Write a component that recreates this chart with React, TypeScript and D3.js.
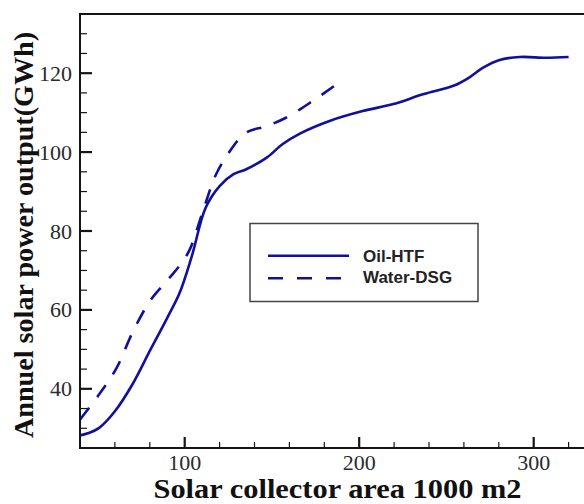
import React from "react";
import * as d3 from "d3";

const oilX = [40, 45, 51, 60, 70, 80, 90, 97, 104, 112, 120, 128, 135, 147, 156, 166, 183, 202, 219, 237, 254, 263, 271, 280, 292, 307, 320];
const oilY = [28.2, 28.8, 30.1, 34.3, 41.1, 49.6, 58, 64.2, 73.5, 85.9, 91.4, 94.4, 95.6, 98.6, 102, 104.7, 107.9, 110.4, 112.1, 114.7, 116.8, 118.9, 121.4, 123.3, 124.1, 123.9, 124.1];
const waterX = [40, 51, 61, 70, 80, 88, 93, 99, 103, 110.5, 118, 126, 135, 147, 158, 173.5, 189];
const waterY = [32.2, 38.6, 45.3, 54.2, 62.2, 66.5, 69, 72.4, 75.4, 85.1, 94.4, 100.3, 104.9, 106.6, 108.7, 113, 117.8];
const xMajor = [100, 200, 300];
const xMinor = [60, 80, 120, 140, 160, 180, 220, 240, 260, 280, 320];
const yMajor = [40, 60, 80, 100, 120];
const yMinor = [30, 35, 45, 50, 55, 65, 70, 75, 85, 90, 95, 105, 110, 115, 125, 130];
const seriesNames = ["Oil-HTF", "Water-DSG"];
const xTitle = "Solar collector area 1000 m2";
const yTitle = "Annuel solar power output(GWh)";

const W = 584, H = 504;
const L = 80, T = 14, B = 448;
const BLUE = "#10109c";

export default function App() {
  const x = d3.scaleLinear().domain([40, 330]).range([L, L + 290 * 1.745]);
  const y = d3.scaleLinear().domain([25, 135]).range([B, T]);
  const line = d3.line<[number, number]>().x(d => x(d[0])).y(d => y(d[1])).curve(d3.curveCatmullRom.alpha(0.5));
  const oil = oilX.map((v, i) => [v, oilY[i]] as [number, number]);
  const water = waterX.map((v, i) => [v, waterY[i]] as [number, number]);
  const axisColor = "#151515";
  return (
    <svg width={W} height={H} style={{ position: "absolute", left: 0, top: 0, display: "block", background: "#fff" }}>
      <defs>
        <clipPath id="plot"><rect x={L} y={T} width={W - L} height={B - T} /></clipPath>
      </defs>
      <rect x={0} y={0} width={W} height={H} fill="#fff" />
      <g clipPath="url(#plot)" fill="none" stroke={BLUE} strokeWidth={2.6}>
        <path d={line(oil) || ""} />
        <path d={line(water) || ""} strokeDasharray="15 13" />
      </g>
      {/* ticks */}
      <g stroke={axisColor}>
        {xMajor.map(v => <line key={"xM" + v} x1={x(v)} x2={x(v)} y1={B} y2={B - 11} strokeWidth={2.2} />)}
        {xMinor.map(v => <line key={"xm" + v} x1={x(v)} x2={x(v)} y1={B} y2={B - 6} strokeWidth={1.2} />)}
        {yMajor.map(v => <line key={"yM" + v} x1={L} x2={L + 12} y1={y(v)} y2={y(v)} strokeWidth={2.2} />)}
        {yMinor.map(v => <line key={"ym" + v} x1={L} x2={L + 7} y1={y(v)} y2={y(v)} strokeWidth={1.2} />)}
      </g>
      {/* frame */}
      <g stroke={axisColor} strokeWidth={2} fill="none">
        <line x1={L} x2={W} y1={T} y2={T} />
        <line x1={L} x2={W} y1={B} y2={B} />
        <line x1={L} x2={L} y1={T - 1} y2={B + 1} />
      </g>
      {/* tick labels */}
      <g fontFamily="'Liberation Serif', 'Times New Roman', serif" fontSize={22} fill="#2a2a2a">
        {xMajor.map(v => <text key={"xl" + v} x={x(v)} y={470} textAnchor="middle">{v}</text>)}
        {yMajor.map(v => <text key={"yl" + v} x={72} y={y(v) + 7.5} textAnchor="end">{v}</text>)}
      </g>
      {/* titles */}
      <text x={337.5} y={498} textAnchor="middle" fontFamily="'Liberation Serif', 'Times New Roman', serif" fontWeight="bold" fontSize={27} textLength={368} lengthAdjust="spacingAndGlyphs" fill="#111">{xTitle}</text>
      <text transform={`translate(33,235) rotate(-90)`} textAnchor="middle" fontFamily="'Liberation Serif', 'Times New Roman', serif" fontWeight="bold" fontSize={28} textLength={406} lengthAdjust="spacingAndGlyphs" fill="#111">{yTitle}</text>
      {/* legend */}
      <rect x={250} y={223.5} width={228} height={78} fill="#fff" stroke="#444" strokeWidth={1.5} />
      <line x1={268} x2={349} y1={255.7} y2={255.7} stroke={BLUE} strokeWidth={2.6} />
      <line x1={268} x2={349} y1={278.3} y2={278.3} stroke={BLUE} strokeWidth={2.6} strokeDasharray="15 14" />
      <g fontFamily="'Liberation Sans', Arial, sans-serif" fontWeight="bold" fontSize={17} fill="#222">
        <text x={363} y={261.5}>{seriesNames[0]}</text>
        <text x={363} y={282.5}>{seriesNames[1]}</text>
      </g>
    </svg>
  );
}
